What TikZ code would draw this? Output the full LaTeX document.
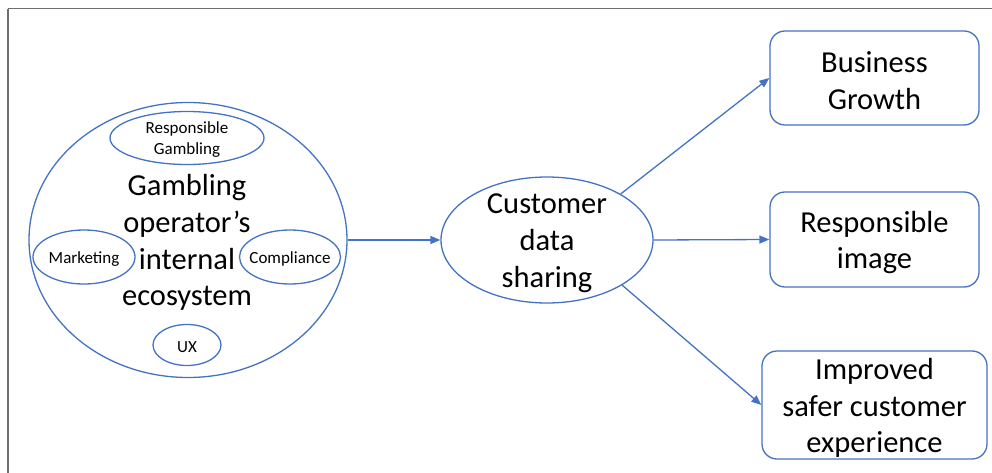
\documentclass[tikz,border=0pt]{standalone}
\usepackage{fontspec}
\setmainfont{Carlito}
\usetikzlibrary{arrows.meta,shapes.geometric}
\definecolor{offblue}{HTML}{4472C4}
\definecolor{framegray}{HTML}{6E6E6E}
\begin{document}
\begin{tikzpicture}[x=1pt,y=-1pt,
  blob/.style={ellipse,draw=offblue,line width=1.3pt,inner sep=0pt},
  bigtext/.style={font=\fontsize{30.5}{36.8}\selectfont,align=center,text=black,inner sep=0pt},
  smalltext/.style={font=\fontsize{17}{21}\selectfont,align=center,text=black,inner sep=0pt},
  unit/.style={blob,label={[smalltext,yshift=-2pt]center:#1}},
  hub/.style={blob,label={[bigtext,yshift=-3pt]center:#1}},
  outcome/.style={draw=offblue,line width=1.3pt,rounded corners=15pt,inner sep=0pt,
    label={[bigtext,yshift=-3pt]center:#1}},
  flow/.style={draw=offblue,line width=1.3pt,-{Triangle[length=10pt,width=8pt]}}]
\useasboundingbox (0,0) rectangle (992,473);
% page frame (top and left edges only)
\draw[framegray,line width=1pt] (8,9) -- (992,9);
\draw[framegray,line width=2pt] (8,9) -- (8,473);

% operator's internal ecosystem
\node[blob,minimum width=318pt,minimum height=275pt] (eco) at (188,240) {};
\node[bigtext] (ecotext) at (187,242.5) {Gambling\\operator’s\\internal\\ecosystem};
\node[unit={Responsible\\Gambling},minimum width=154pt,minimum height=53pt] (rg) at (187,138) {};
\node[unit=Marketing,minimum width=102pt,minimum height=54pt] (mkt) at (84,257) {};
\node[unit=Compliance,minimum width=101pt,minimum height=54pt] (comp) at (290,257) {};
\node[unit=UX,minimum width=68pt,minimum height=41pt] (ux) at (187,345) {};

% central hub
\node[hub={Customer\\data\\sharing},minimum width=212pt,minimum height=126pt] (cds) at (547,240) {};

% outcomes
\node[outcome={Business\\Growth},minimum width=209pt,minimum height=94pt] (bg) at (874.5,78) {};
\node[outcome={Responsible\\image},minimum width=209pt,minimum height=95pt] (ri) at (874.5,239.5) {};
\node[outcome={Improved\\safer customer\\experience},minimum width=225pt,minimum height=108pt] (isc) at (874.5,405) {};

% connectors
\draw[flow] (eco.east) -- (cds.west);
\draw[flow] (cds.32) -- (bg.west);
\draw[flow] (cds.east) -- (ri.west);
\draw[flow] (cds.-31) -- (isc.west);
\end{tikzpicture}
\end{document}
